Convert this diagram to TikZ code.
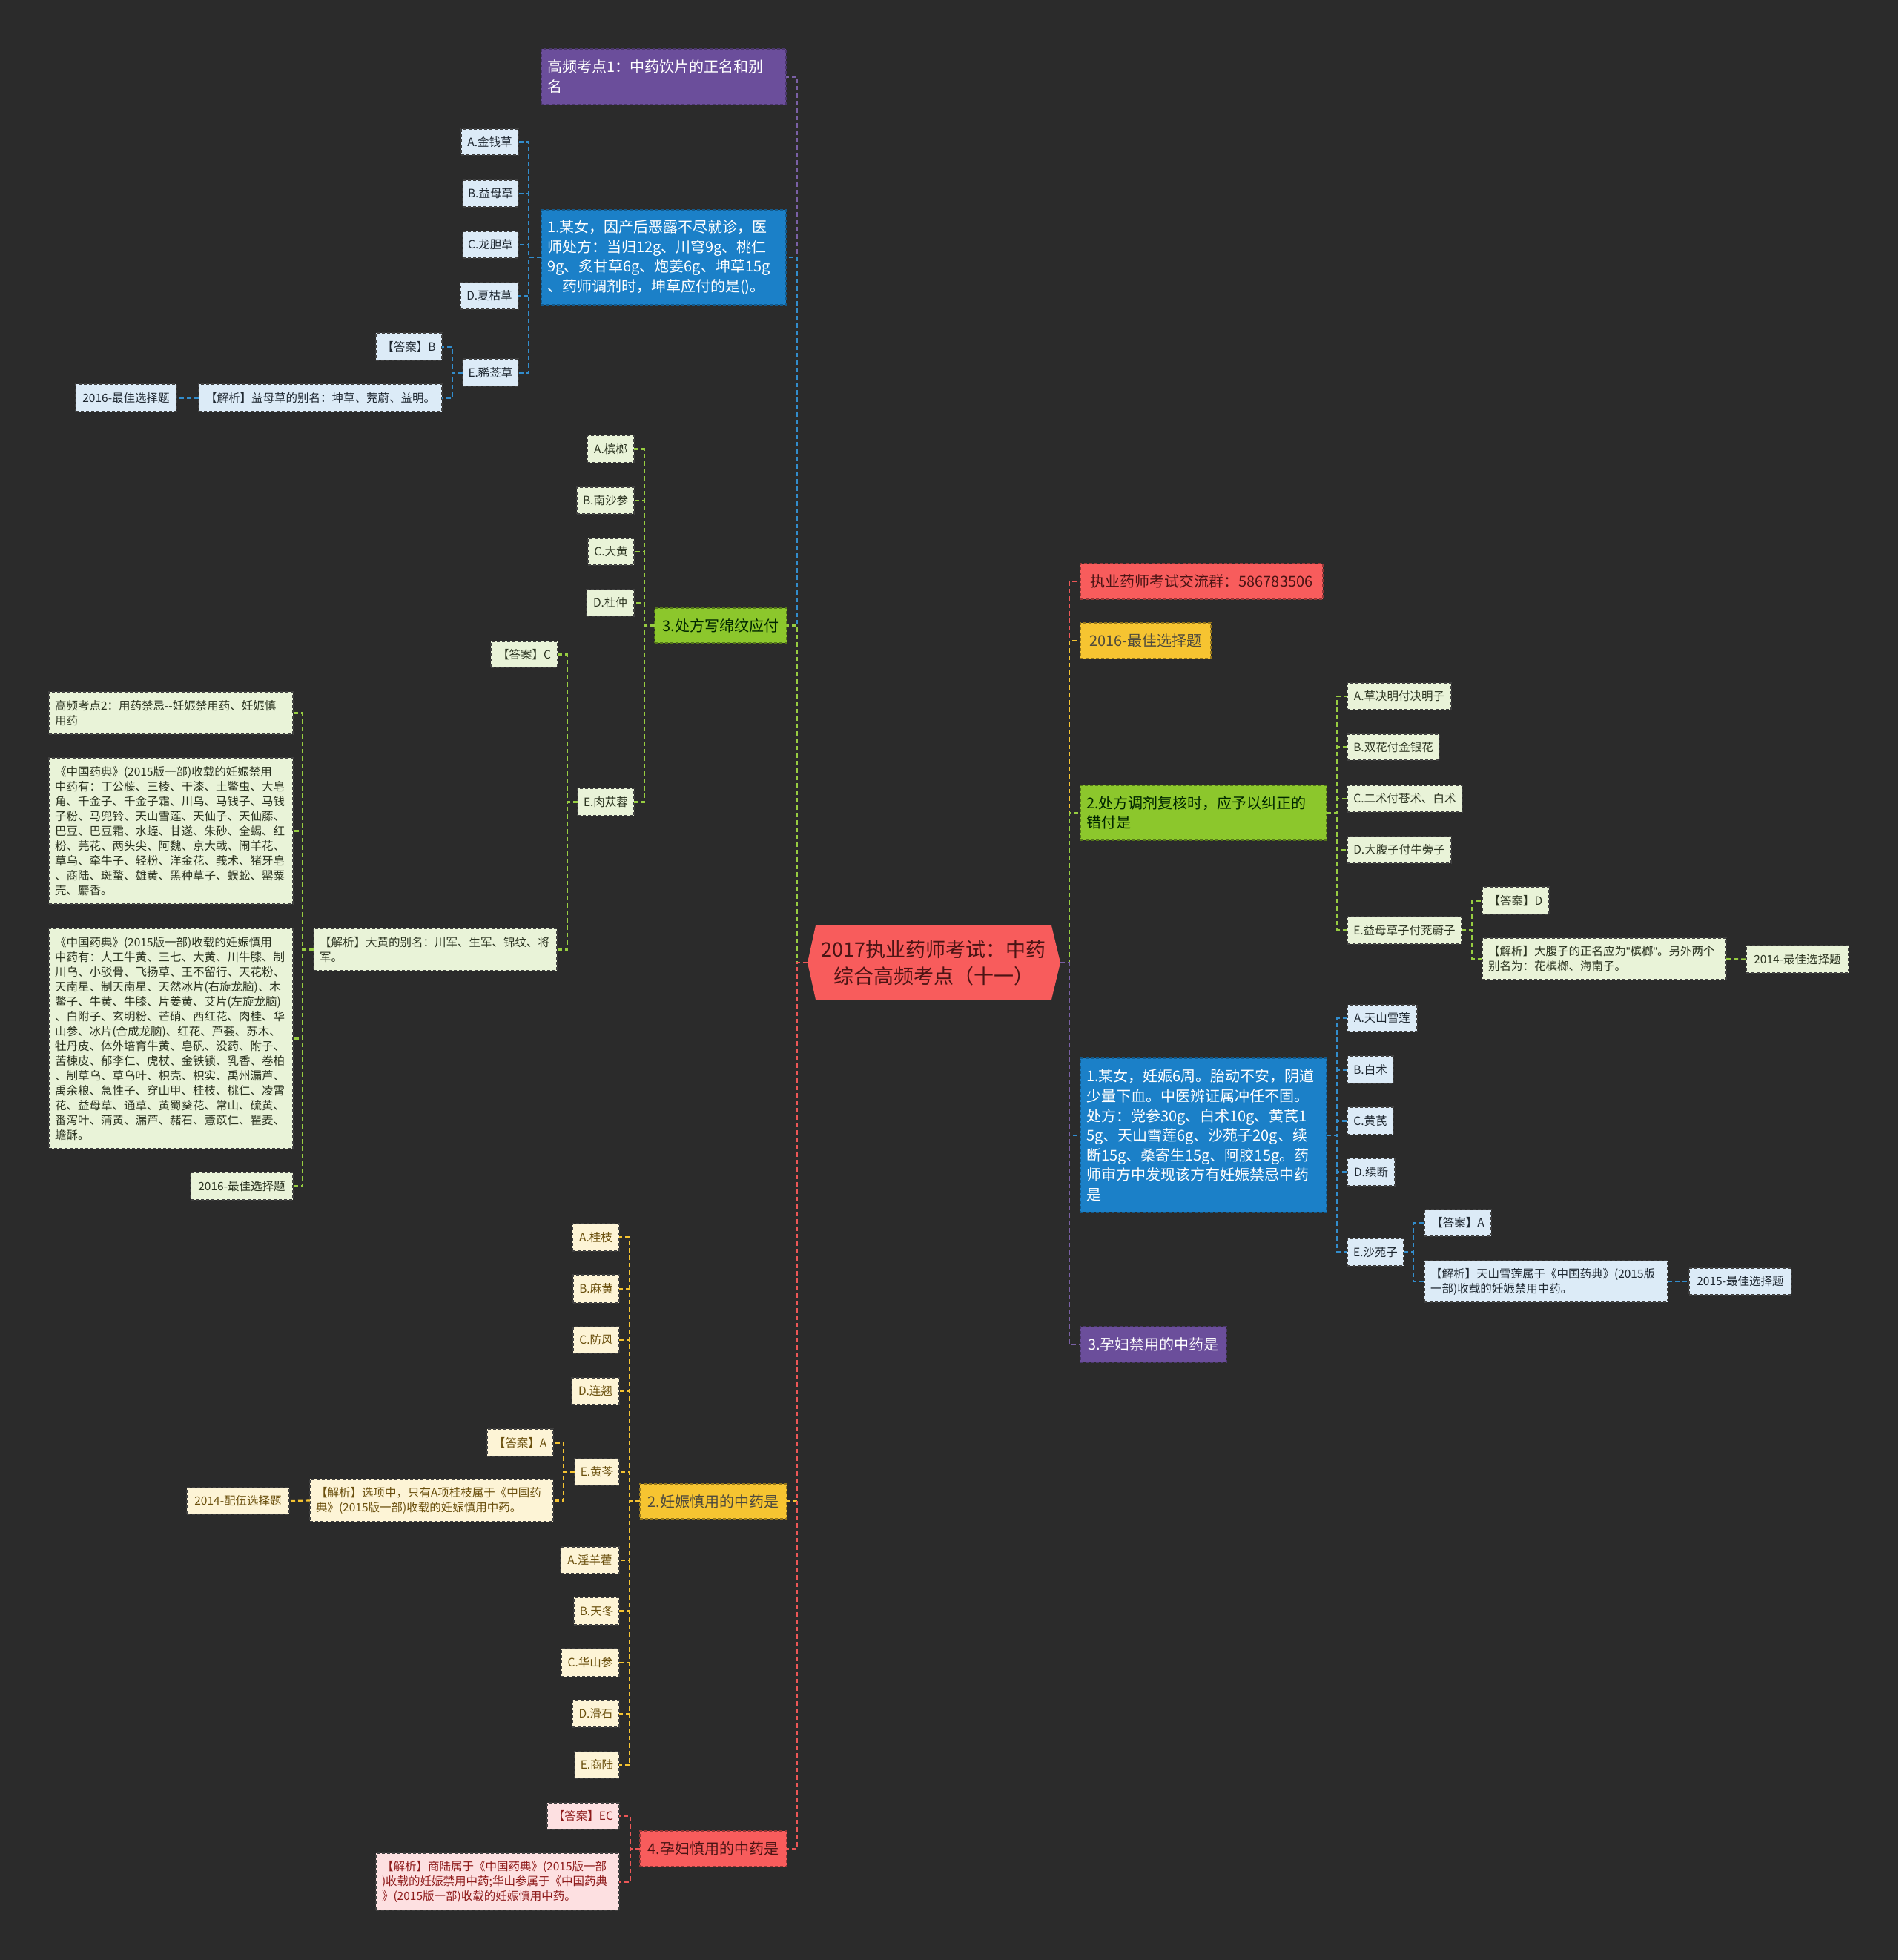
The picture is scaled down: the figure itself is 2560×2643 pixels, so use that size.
\documentclass[tikz,border=0pt]{standalone}
\usepackage{fontspec}
\setmainfont{Noto Sans CJK SC}
\newfontfamily\qfont{Liberation Sans}
\usetikzlibrary{backgrounds}
\definecolor{bg}{HTML}{2B2B2B}
\definecolor{cpurple}{HTML}{6B4E9B}
\definecolor{cblue}{HTML}{1B80C8}
\definecolor{cgreen}{HTML}{8CC72C}
\definecolor{cyellow}{HTML}{F6C431}
\definecolor{cred}{HTML}{F85C5C}
\definecolor{lblue}{HTML}{DCEBF7}
\definecolor{lgreen}{HTML}{E9F3D8}
\definecolor{lyellow}{HTML}{FDF4D6}
\definecolor{lpink}{HTML}{FDE0E1}
\definecolor{tblue}{HTML}{1E2730}
\definecolor{tgreen}{HTML}{2B3320}
\definecolor{tyellow}{HTML}{6A4F0C}
\definecolor{tred}{HTML}{8E1A1A}
\definecolor{rootT}{HTML}{4B1414}
\newcommand\boxS[7]{%
 \pgfmathsetmacro\bW{#5-#3}\pgfmathsetmacro\bH{#6-#4}%
 \node[#1,anchor=north west,minimum width=\bW pt,minimum height=\bH pt] (#2) at (#3,#4) {#7};}
\newcommand\boxM[7]{%
 \pgfmathsetmacro\bW{#5-#3}\pgfmathsetmacro\bH{#6-#4}\pgfmathsetmacro\bT{#5-#3-16}%
 \node[#1,anchor=north west,minimum width=\bW pt,minimum height=\bH pt,text width=\bT pt,align=left,inner xsep=8pt] (#2) at (#3,#4) {#7};}
\tikzset{
 lvbase/.style={font=\fontsize{20}{26.6}\selectfont, inner xsep=8pt, inner ysep=3pt, outer sep=0pt, dash pattern=on 4pt off 3pt, line width=1.3pt},
 lvP/.style={lvbase, fill=cpurple, draw=cpurple!70!black, text=white},
 lvB/.style={lvbase, fill=cblue, draw=cblue!70!black, text=white},
 lvG/.style={lvbase, fill=cgreen, draw=cgreen!60!black, text=black!85!green},
 lvY/.style={lvbase, fill=cyellow, draw=cyellow!60!black, text=black!80!yellow},
 lvR/.style={lvbase, fill=cred, draw=cred!60!black, text=rootT},
 chbase/.style={font=\fontsize{15.5}{20}\selectfont, inner xsep=6pt, inner ysep=3pt, outer sep=0pt, dash pattern=on 4pt off 3pt, line width=1.2pt, draw=black!75},
 chB/.style={chbase, fill=lblue, text=tblue},
 chG/.style={chbase, fill=lgreen, text=tgreen},
 chY/.style={chbase, fill=lyellow, text=tyellow},
 chR/.style={chbase, fill=lpink, text=tred},
 lnbase/.style={dash pattern=on 6pt off 4pt, line width=2.2pt},
 lnP/.style={lnbase, draw=cpurple!90!white},
 lnB/.style={lnbase, draw=cblue!90!white},
 lnG/.style={lnbase, draw=cgreen!90!white},
 lnY/.style={lnbase, draw=cyellow},
 lnR/.style={lnbase, draw=cred!95!black},
}
\begin{document}
\begin{tikzpicture}[x=1pt,y=-1pt]
\begin{scope}[on background layer]
\fill[bg] (0,0) rectangle (2560,2643);
\end{scope}
\useasboundingbox (0,0) rectangle (2560,2643);

% root
\node[font=\fontsize{27}{36}\selectfont, text=rootT, align=center, minimum width=318pt, minimum height=100pt, anchor=north west, inner sep=0pt, outer sep=0pt] (root) at (1100,1248) {2017执业药师考试：中药\\综合高频考点（十一）};
\coordinate (rl) at ([xshift=-11pt]root.west);
\coordinate (rr) at ([xshift=12pt]root.east);
\begin{scope}[on background layer]
\fill[cred] (root.north west) -- (root.north east) -- (rr) -- (root.south east) -- (root.south west) -- (rl) -- cycle;
\end{scope}

% ---------- left level 1
\boxM{lvP}{P1}{730}{66}{1060}{141}{高频考点1：中药饮片的正名和别\\名}
\boxM{lvB}{B1}{730}{283}{1060}{411}{1.某女，因产后恶露不尽就诊，医\\师处方：当归12g、川穹9g、桃仁\\9g、炙甘草6g、炮姜6g、坤草15g\\、药师调剂时，坤草应付的是()。}
\boxS{lvG}{G1}{883}{820}{1061}{867}{3.处方写绵纹应付}
\boxS{lvY}{Y1}{863}{2001}{1061}{2048}{2.妊娠慎用的中药是}
\boxS{lvR}{R1}{863}{2469}{1061}{2517}{4.孕妇慎用的中药是}

% ---------- right level 1
\boxS{lvR}{RR1}{1457}{760}{1784}{808}{执业药师考试交流群：586783506}
\boxS{lvY}{RY1}{1457}{840}{1633}{888}{2016-最佳选择题}
\boxM{lvG}{RG1}{1457}{1059}{1789}{1133}{2.处方调剂复核时，应予以纠正的\\错付是}
\boxM{lvB}{RB1}{1457}{1427}{1789}{1635}{1.某女，妊娠6周。胎动不安，阴道\\少量下血。中医辨证属冲任不固。\\处方：党参30g、白术10g、黄芪1\\5g、天山雪莲6g、沙苑子20g、续\\断15g、桑寄生15g、阿胶15g。药\\师审方中发现该方有妊娠禁忌中药\\是}
\boxS{lvP}{RP1}{1457}{1789}{1654}{1837}{3.孕妇禁用的中药是}

% ---------- blue left children
\boxS{chB}{a1}{622}{174}{699}{209}{A.金钱草}
\boxS{chB}{b1}{624}{243}{699}{279}{B.益母草}
\boxS{chB}{c1}{624}{312}{699}{348}{C.龙胆草}
\boxS{chB}{d1}{621}{381}{699}{417}{D.夏枯草}
\boxS{chB}{e1}{624}{484}{699}{521}{E.豨莶草}
\boxS{chB}{ans1}{507}{449}{596}{486}{【答案】B}
\boxS{chB}{ana1}{268}{518}{596}{555}{【解析】益母草的别名：坤草、茺蔚、益明。}
\boxS{chB}{t1}{102}{518}{238}{555}{2016-最佳选择题}

% ---------- green left children
\boxS{chG}{a2}{792}{587}{855}{624}{A.槟榔}
\boxS{chG}{b2}{778}{657}{855}{693}{B.南沙参}
\boxS{chG}{c2}{793}{726}{855}{762}{C.大黄}
\boxS{chG}{d2}{791}{795}{855}{831}{D.杜仲}
\boxS{chG}{e2}{779}{1063}{855}{1100}{E.肉苁蓉}
\boxS{chG}{ans2}{662}{865}{752}{900}{【答案】C}
\boxM{chG}{ana2}{423}{1252}{751}{1309}{【解析】大黄的别名：川军、生军、锦纹、将\\军。}
\boxM{chG}{k1}{66}{933}{395}{990}{高频考点2：用药禁忌-{}-妊娠禁用药、妊娠慎\\用药}
\boxM{chG}{k2}{66}{1022}{395}{1219}{《中国药典》(2015版一部)收载的妊娠禁用\\中药有：丁公藤、三棱、干漆、土鳖虫、大皂\\角、千金子、千金子霜、川乌、马钱子、马钱\\子粉、马兜铃、天山雪莲、天仙子、天仙藤、\\巴豆、巴豆霜、水蛭、甘遂、朱砂、全蝎、红\\粉、芫花、两头尖、阿魏、京大戟、闹羊花、\\草乌、牵牛子、轻粉、洋金花、莪术、猪牙皂\\、商陆、斑蝥、雄黄、黑种草子、蜈蚣、罂粟\\壳、麝香。}
\boxM{chG}{k3}{66}{1252}{395}{1549}{《中国药典》(2015版一部)收载的妊娠慎用\\中药有：人工牛黄、三七、大黄、川牛膝、制\\川乌、小驳骨、飞扬草、王不留行、天花粉、\\天南星、制天南星、天然冰片(右旋龙脑)、木\\鳖子、牛黄、牛膝、片姜黄、艾片(左旋龙脑)\\、白附子、玄明粉、芒硝、西红花、肉桂、华\\山参、冰片(合成龙脑)、红花、芦荟、苏木、\\牡丹皮、体外培育牛黄、皂矾、没药、附子、\\苦楝皮、郁李仁、虎杖、金铁锁、乳香、卷柏\\、制草乌、草乌叶、枳壳、枳实、禹州漏芦、\\禹余粮、急性子、穿山甲、桂枝、桃仁、凌霄\\花、益母草、通草、黄蜀葵花、常山、硫黄、\\番泻叶、蒲黄、漏芦、赭石、薏苡仁、瞿麦、\\蟾酥。}
\boxS{chG}{t2}{257}{1581}{395}{1618}{2016-最佳选择题}

% ---------- yellow left children
\boxS{chY}{ya}{772}{1650}{835}{1687}{A.桂枝}
\boxS{chY}{yb}{773}{1719}{835}{1757}{B.麻黄}
\boxS{chY}{yc}{773}{1789}{835}{1825}{C.防风}
\boxS{chY}{yd}{771}{1858}{835}{1894}{D.连翘}
\boxS{chY}{ye}{775}{1967}{835}{2003}{E.黄芩}
\boxS{chY}{ans3}{657}{1927}{746}{1964}{【答案】A}
\boxM{chY}{ana3}{418}{1995}{746}{2052}{【解析】选项中，只有A项桂枝属于《中国药\\典》(2015版一部)收载的妊娠慎用中药。}
\boxS{chY}{t3}{252}{2006}{390}{2042}{2014-配伍选择题}
\boxS{chY}{yf}{756}{2086}{835}{2122}{A.淫羊藿}
\boxS{chY}{yg}{774}{2154}{835}{2191}{B.天冬}
\boxS{chY}{yh}{757}{2223}{835}{2261}{C.华山参}
\boxS{chY}{yi}{772}{2293}{835}{2329}{D.滑石}
\boxS{chY}{yj}{775}{2362}{835}{2398}{E.商陆}

% ---------- red left children
\boxS{chR}{ans4}{738}{2431}{835}{2467}{【答案】EC}
\boxM{chR}{ana4}{507}{2499}{835}{2576}{【解析】商陆属于《中国药典》(2015版一部\\)收载的妊娠禁用中药;华山参属于《中国药典\\》(2015版一部)收载的妊娠慎用中药。}

% ---------- green right children
\boxS{chG}{ga}{1817}{921}{1957}{957}{A.草决明付决明子}
\boxS{chG}{gb}{1817}{990}{1941}{1025}{B.双花付金银花}
\boxS{chG}{gc}{1817}{1059}{1972}{1095}{C.二术付苍术、白术}
\boxS{chG}{gd}{1817}{1128}{1957}{1164}{D.大腹子付牛蒡子}
\boxS{chG}{ge}{1817}{1236}{1971}{1273}{E.益母草子付茺蔚子}
\boxS{chG}{ans5}{1999}{1196}{2089}{1233}{【答案】D}
\boxM{chG}{ana5}{1999}{1265}{2328}{1321}{【解析】大腹子的正名应为{\qfont"}槟榔{\qfont"}。另外两个\\别名为：花槟榔、海南子。}
\boxS{chG}{t5}{2355}{1275}{2493}{1312}{2014-最佳选择题}

% ---------- blue right children
\boxS{chB}{ba}{1817}{1355}{1911}{1391}{A.天山雪莲}
\boxS{chB}{bb}{1817}{1424}{1879}{1461}{B.白术}
\boxS{chB}{bc}{1817}{1493}{1879}{1530}{C.黄芪}
\boxS{chB}{bd}{1817}{1562}{1881}{1599}{D.续断}
\boxS{chB}{be}{1817}{1670}{1893}{1707}{E.沙苑子}
\boxS{chB}{ans6}{1921}{1631}{2011}{1667}{【答案】A}
\boxM{chB}{ana6}{1921}{1700}{2249}{1756}{【解析】天山雪莲属于《中国药典》(2015版\\一部)收载的妊娠禁用中药。}
\boxS{chB}{t6}{2278}{1710}{2416}{1746}{2015-最佳选择题}

% ---------- connectors: root
\draw[lnP] (rl) -- ++(-14,0) |- (P1.east);
\draw[lnB] (rl) -- ++(-14,0) |- (B1.east);
\draw[lnG] (rl) -- ++(-14,0) |- (G1.east);
\draw[lnY] (rl) -- ++(-14,0) |- (Y1.east);
\draw[lnR] (rl) -- ++(-14,0) |- (R1.east);
\draw[lnR] (rr) -- ++(12,0) |- (RR1.west);
\draw[lnY] (rr) -- ++(12,0) |- (RY1.west);
\draw[lnG] (rr) -- ++(12,0) |- (RG1.west);
\draw[lnB] (rr) -- ++(12,0) |- (RB1.west);
\draw[lnP] (rr) -- ++(12,0) |- (RP1.west);

% left blue
\foreach \c in {a1,b1,c1,d1,e1} \draw[lnB] (B1.west) -- ++(-17,0) |- (\c.east);
\foreach \c in {ans1,ana1} \draw[lnB] (e1.west) -- ++(-14,0) |- (\c.east);
\draw[lnB] (ana1.west) -- (t1.east);
% left green
\foreach \c in {a2,b2,c2,d2,e2} \draw[lnG] (G1.west) -- ++(-14,0) |- (\c.east);
\foreach \c in {ans2,ana2} \draw[lnG] (e2.west) -- ++(-14,0) |- (\c.east);
\foreach \c in {k1,k2,k3,t2} \draw[lnG] (ana2.west) -- ++(-15,0) |- (\c.east);
% left yellow
\foreach \c in {ya,yb,yc,yd,ye,yf,yg,yh,yi,yj} \draw[lnY] (Y1.west) -- ++(-14,0) |- (\c.east);
\foreach \c in {ans3,ana3} \draw[lnY] (ye.west) -- ++(-15,0) |- (\c.east);
\draw[lnY] (ana3.west) -- (t3.east);
% left red
\foreach \c in {ans4,ana4} \draw[lnR] (R1.west) -- ++(-13,0) |- (\c.east);
% right green
\foreach \c in {ga,gb,gc,gd,ge} \draw[lnG] (RG1.east) -- ++(14,0) |- (\c.west);
\foreach \c in {ans5,ana5} \draw[lnG] (ge.east) -- ++(14,0) |- (\c.west);
\draw[lnG] (ana5.east) -- (t5.west);
% right blue
\foreach \c in {ba,bb,bc,bd,be} \draw[lnB] (RB1.east) -- ++(14,0) |- (\c.west);
\foreach \c in {ans6,ana6} \draw[lnB] (be.east) -- ++(13,0) |- (\c.west);
\draw[lnB] (ana6.east) -- (t6.west);
\end{tikzpicture}
\end{document}
